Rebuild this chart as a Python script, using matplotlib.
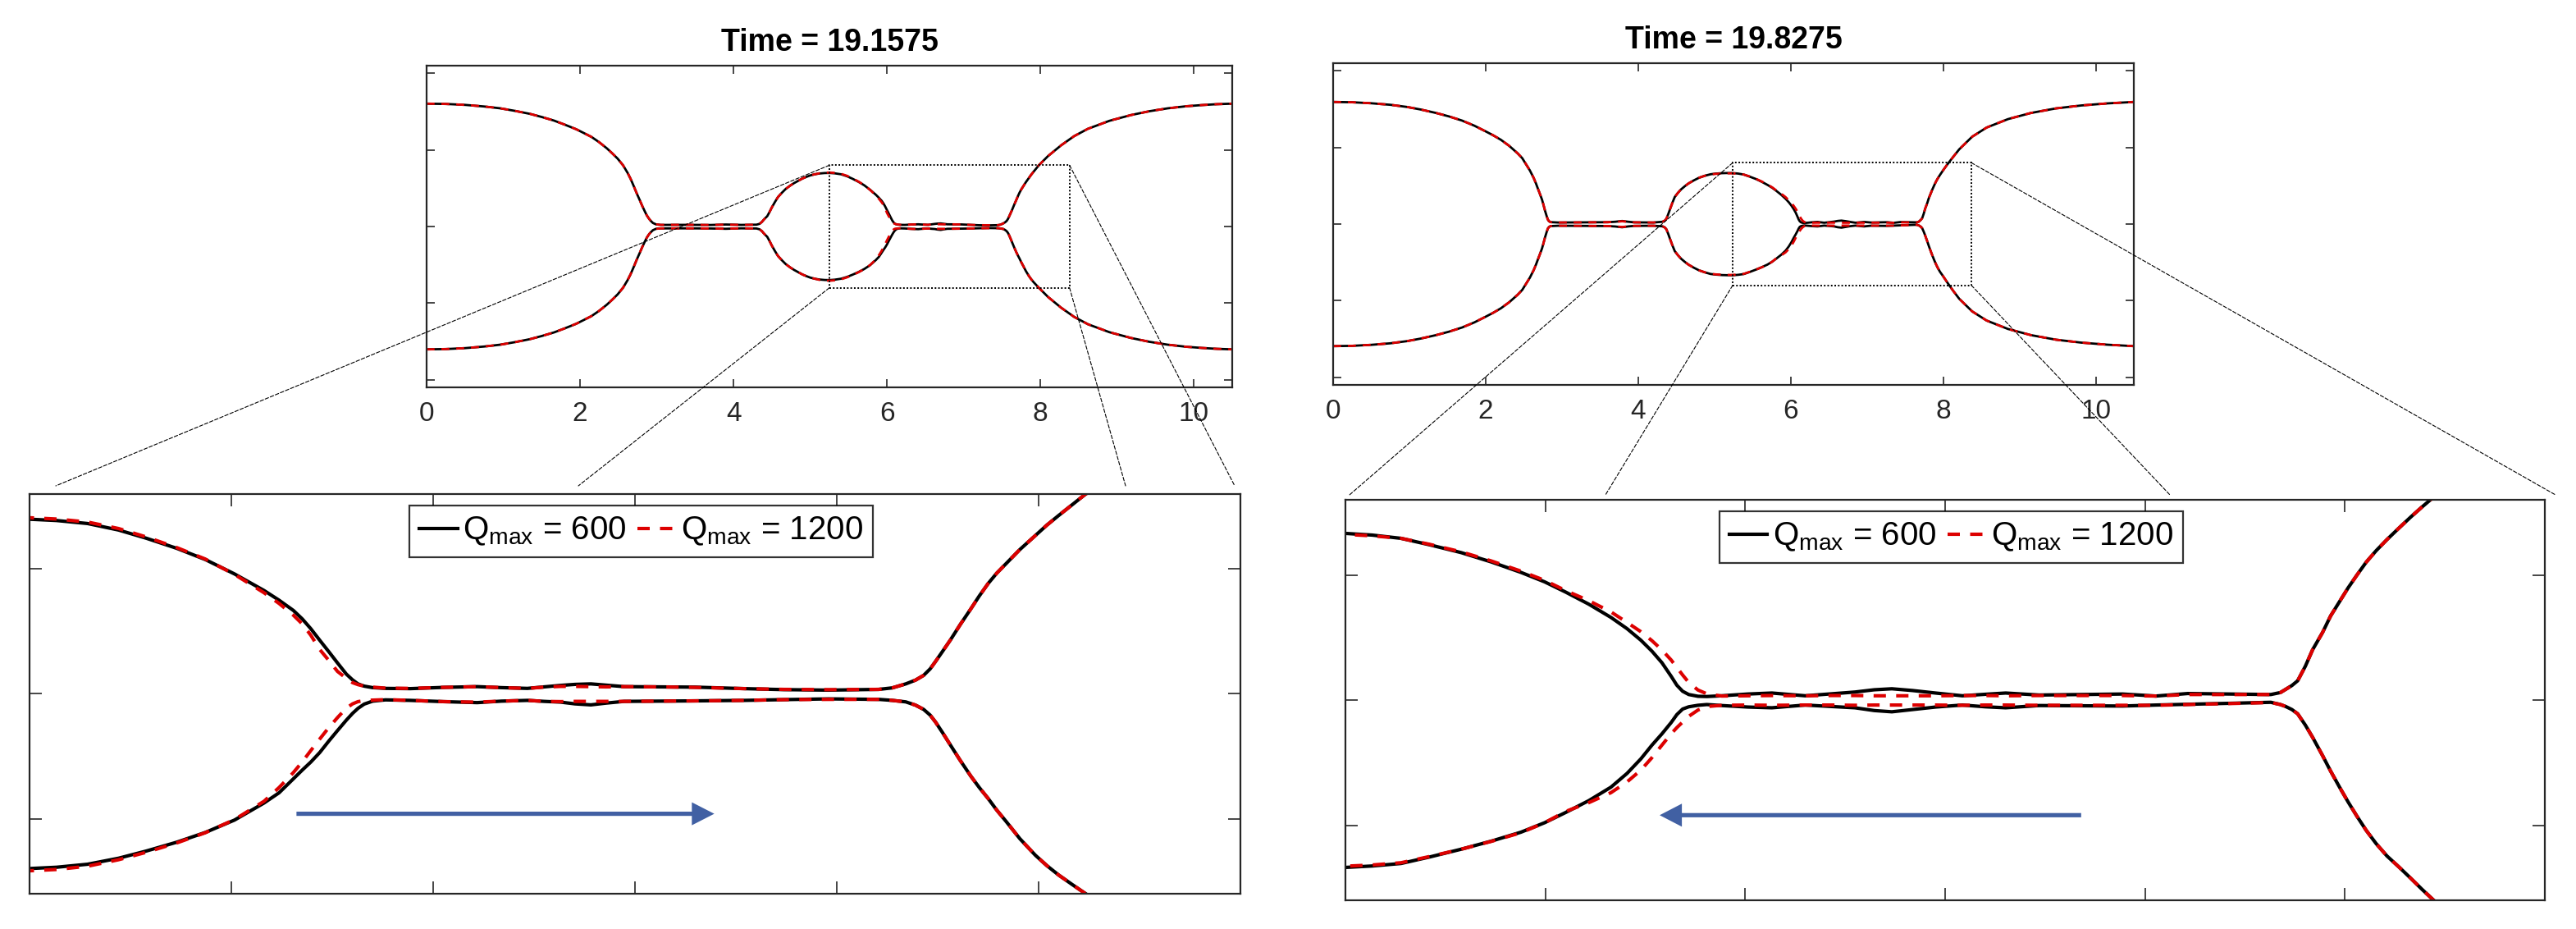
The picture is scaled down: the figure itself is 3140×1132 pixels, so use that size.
import numpy as np
import matplotlib
matplotlib.use("Agg")
import matplotlib.pyplot as plt
from matplotlib.patches import Rectangle, FancyArrow, ConnectionPatch

plt.rcParams['font.family'] = ['Liberation Sans', 'DejaVu Sans']
plt.rcParams['mathtext.fontset'] = 'custom'
plt.rcParams['mathtext.rm'] = 'Liberation Sans'
plt.rcParams['mathtext.it'] = 'Liberation Sans:italic'

# ================= panel 1 : Time = 19.1575 =================
title1 = "Time = 19.1575"
p1_x = [0.00, 0.25, 0.50, 0.75, 0.96, 1.15, 1.35, 1.50, 1.66, 1.80,
        1.95, 2.05, 2.15, 2.25, 2.35, 2.42, 2.49, 2.56, 2.62, 2.66,
        2.70, 2.74, 2.78, 2.81, 2.84, 2.87, 2.90, 2.925, 2.95, 2.99,
        3.05, 3.40, 3.70, 3.90, 4.10, 4.30, 4.34, 4.37, 4.40, 4.44,
        4.47, 4.50, 4.54, 4.58, 4.63, 4.68, 4.74, 4.79, 4.85, 4.90,
        4.95, 5.00, 5.06, 5.12, 5.19, 5.253, 5.32, 5.40, 5.48, 5.552,
        5.63, 5.704, 5.78, 5.856, 5.895, 5.932, 5.955, 5.977, 6.000, 6.023,
        6.046, 6.069, 6.085, 6.099, 6.115, 6.137, 6.17, 6.234, 6.32, 6.407,
        6.47, 6.537, 6.58, 6.623, 6.66, 6.701, 6.74, 6.787, 6.88, 6.97,
        7.099, 7.20, 7.315, 7.445, 7.48, 7.515, 7.54, 7.561, 7.578, 7.592,
        7.61, 7.63, 7.656, 7.683, 7.705, 7.728, 7.75, 7.774, 7.81, 7.85,
        7.88, 7.91, 7.945, 7.979, 8.10, 8.27, 8.44, 8.62, 8.90, 9.18,
        9.42, 9.66, 9.90, 10.1, 10.3, 10.5]
p1_up600 = [1.604, 1.600, 1.588, 1.567, 1.543, 1.510, 1.470, 1.430, 1.383, 1.330,
            1.270, 1.220, 1.169, 1.100, 1.020, 0.955, 0.886, 0.800, 0.700, 0.620,
            0.527, 0.430, 0.340, 0.270, 0.206, 0.145, 0.100, 0.070, 0.046, 0.028,
            0.021, 0.022, 0.020, 0.026, 0.021, 0.024, 0.035, 0.060, 0.095, 0.135,
            0.190, 0.250, 0.320, 0.385, 0.440, 0.490, 0.535, 0.567, 0.600, 0.627,
            0.648, 0.667, 0.682, 0.692, 0.698, 0.699, 0.694, 0.682, 0.656, 0.623,
            0.583, 0.538, 0.480, 0.414, 0.375, 0.334, 0.300, 0.261, 0.215, 0.170,
            0.124, 0.079, 0.056, 0.040, 0.031, 0.025, 0.022, 0.021, 0.026, 0.029,
            0.025, 0.022, 0.028, 0.034, 0.038, 0.040, 0.035, 0.029, 0.028, 0.027,
            0.021, 0.017, 0.015, 0.018, 0.024, 0.040, 0.055, 0.074, 0.100, 0.130,
            0.170, 0.215, 0.278, 0.340, 0.392, 0.442, 0.483, 0.521, 0.578, 0.634,
            0.676, 0.714, 0.757, 0.799, 0.920, 1.060, 1.180, 1.276, 1.380, 1.455,
            1.505, 1.543, 1.570, 1.585, 1.597, 1.604]
p1_lo600 = [-1.604, -1.600, -1.588, -1.567, -1.543, -1.510, -1.470, -1.430, -1.383, -1.330,
            -1.270, -1.220, -1.169, -1.100, -1.020, -0.955, -0.886, -0.800, -0.700, -0.620,
            -0.527, -0.430, -0.340, -0.270, -0.206, -0.145, -0.100, -0.072, -0.048, -0.030,
            -0.025, -0.024, -0.026, -0.030, -0.024, -0.026, -0.037, -0.060, -0.095, -0.135,
            -0.190, -0.250, -0.320, -0.385, -0.440, -0.490, -0.535, -0.567, -0.600, -0.627,
            -0.648, -0.667, -0.682, -0.692, -0.698, -0.699, -0.694, -0.682, -0.658, -0.629,
            -0.594, -0.555, -0.505, -0.437, -0.396, -0.340, -0.305, -0.273, -0.235, -0.190,
            -0.147, -0.105, -0.078, -0.058, -0.041, -0.029, -0.024, -0.026, -0.031, -0.035,
            -0.029, -0.026, -0.030, -0.033, -0.040, -0.044, -0.037, -0.030, -0.029, -0.028,
            -0.026, -0.023, -0.020, -0.022, -0.026, -0.032, -0.045, -0.062, -0.085, -0.113,
            -0.155, -0.204, -0.267, -0.329, -0.375, -0.419, -0.465, -0.510, -0.580, -0.646,
            -0.688, -0.725, -0.763, -0.799, -0.920, -1.060, -1.180, -1.276, -1.380, -1.455,
            -1.505, -1.543, -1.570, -1.585, -1.597, -1.604]
p1_up1200 = [1.604, 1.600, 1.588, 1.567, 1.543, 1.510, 1.470, 1.430, 1.383, 1.330,
             1.270, 1.220, 1.169, 1.100, 1.020, 0.955, 0.886, 0.800, 0.700, 0.620,
             0.527, 0.430, 0.340, 0.270, 0.206, 0.145, 0.100, 0.070, 0.046, 0.028,
             0.021, 0.022, 0.020, 0.024, 0.021, 0.023, 0.035, 0.060, 0.095, 0.135,
             0.190, 0.250, 0.320, 0.385, 0.440, 0.490, 0.535, 0.567, 0.600, 0.627,
             0.648, 0.667, 0.682, 0.695, 0.703, 0.705, 0.700, 0.688, 0.662, 0.628,
             0.586, 0.540, 0.478, 0.405, 0.362, 0.315, 0.280, 0.235, 0.178, 0.135,
             0.090, 0.062, 0.045, 0.037, 0.031, 0.027, 0.023, 0.022, 0.026, 0.029,
             0.025, 0.022, 0.027, 0.030, 0.030, 0.029, 0.028, 0.029, 0.028, 0.026,
             0.021, 0.018, 0.017, 0.018, 0.024, 0.040, 0.055, 0.074, 0.100, 0.130,
             0.170, 0.215, 0.278, 0.340, 0.392, 0.442, 0.483, 0.521, 0.578, 0.634,
             0.676, 0.714, 0.757, 0.799, 0.920, 1.060, 1.180, 1.276, 1.380, 1.455,
             1.505, 1.543, 1.570, 1.585, 1.597, 1.604]
p1_lo1200 = [-1.604, -1.600, -1.588, -1.567, -1.543, -1.510, -1.470, -1.430, -1.383, -1.330,
             -1.270, -1.220, -1.169, -1.100, -1.020, -0.955, -0.886, -0.800, -0.700, -0.620,
             -0.527, -0.430, -0.340, -0.270, -0.206, -0.145, -0.100, -0.072, -0.048, -0.030,
             -0.025, -0.024, -0.026, -0.028, -0.024, -0.026, -0.037, -0.060, -0.095, -0.135,
             -0.190, -0.250, -0.320, -0.385, -0.440, -0.490, -0.535, -0.567, -0.600, -0.627,
             -0.648, -0.667, -0.682, -0.697, -0.705, -0.708, -0.703, -0.690, -0.664, -0.634,
             -0.597, -0.556, -0.503, -0.430, -0.375, -0.315, -0.272, -0.227, -0.181, -0.136,
             -0.095, -0.057, -0.040, -0.031, -0.027, -0.025, -0.023, -0.026, -0.031, -0.033,
             -0.029, -0.026, -0.030, -0.031, -0.030, -0.030, -0.030, -0.030, -0.029, -0.028,
             -0.026, -0.023, -0.022, -0.022, -0.026, -0.032, -0.045, -0.062, -0.085, -0.113,
             -0.155, -0.204, -0.267, -0.329, -0.375, -0.419, -0.465, -0.510, -0.580, -0.646,
             -0.688, -0.725, -0.763, -0.799, -0.920, -1.060, -1.180, -1.276, -1.380, -1.455,
             -1.505, -1.543, -1.570, -1.585, -1.597, -1.604]

# ================= panel 2 : Time = 19.8275 =================
title2 = "Time = 19.8275"
p2_x = [0.00, 0.25, 0.50, 0.75, 0.967, 1.15, 1.35, 1.52, 1.69, 1.85,
        2.00, 2.10, 2.20, 2.31, 2.42, 2.48, 2.53, 2.58, 2.63, 2.66,
        2.69, 2.715, 2.74, 2.76, 2.78, 2.80, 2.815, 2.83, 2.85, 2.95,
        3.30, 3.60, 3.70, 3.79, 3.87, 3.95, 4.20, 4.32, 4.35, 4.37,
        4.395, 4.42, 4.45, 4.48, 4.52, 4.56, 4.61, 4.66, 4.73, 4.80,
        4.88, 4.95, 5.02, 5.10, 5.17, 5.237, 5.31, 5.385, 5.46, 5.542,
        5.62, 5.698, 5.76, 5.815, 5.875, 5.933, 5.975, 6.011, 6.04, 6.066,
        6.09, 6.105, 6.12, 6.136, 6.16, 6.183, 6.222, 6.29, 6.353, 6.44,
        6.51, 6.57, 6.62, 6.666, 6.72, 6.78, 6.85, 6.91, 6.963, 7.05,
        7.16, 7.268, 7.355, 7.438, 7.55, 7.655, 7.68, 7.694, 7.71, 7.725,
        7.745, 7.764, 7.79, 7.811, 7.835, 7.857, 7.88, 7.904, 7.93, 7.958,
        7.99, 8.02, 8.05, 8.08, 8.13, 8.21, 8.38, 8.57, 8.85, 9.15,
        9.48, 9.81, 10.15, 10.5]
p2_up600 = [1.594, 1.590, 1.577, 1.557, 1.529, 1.495, 1.450, 1.405, 1.351, 1.285,
            1.210, 1.158, 1.100, 1.020, 0.923, 0.860, 0.780, 0.700, 0.602, 0.530,
            0.450, 0.385, 0.317, 0.245, 0.170, 0.105, 0.060, 0.038, 0.025, 0.020,
            0.022, 0.024, 0.030, 0.040, 0.030, 0.022, 0.020, 0.030, 0.045, 0.068,
            0.130, 0.200, 0.280, 0.353, 0.405, 0.450, 0.492, 0.530, 0.570, 0.605,
            0.632, 0.650, 0.659, 0.664, 0.666, 0.666, 0.659, 0.646, 0.620, 0.589,
            0.552, 0.510, 0.472, 0.431, 0.383, 0.330, 0.285, 0.239, 0.195, 0.149,
            0.095, 0.059, 0.035, 0.022, 0.015, 0.014, 0.017, 0.024, 0.028, 0.017,
            0.025, 0.032, 0.041, 0.045, 0.038, 0.028, 0.017, 0.023, 0.028, 0.020,
            0.022, 0.024, 0.016, 0.026, 0.024, 0.022, 0.030, 0.043, 0.058, 0.077,
            0.135, 0.201, 0.270, 0.336, 0.395, 0.449, 0.500, 0.551, 0.597, 0.641,
            0.688, 0.731, 0.772, 0.811, 0.875, 0.975, 1.140, 1.260, 1.370, 1.450,
            1.510, 1.548, 1.575, 1.594]
p2_lo600 = [-1.594, -1.590, -1.577, -1.557, -1.529, -1.495, -1.450, -1.405, -1.351, -1.285,
            -1.210, -1.158, -1.100, -1.020, -0.923, -0.860, -0.780, -0.700, -0.602, -0.530,
            -0.450, -0.385, -0.317, -0.245, -0.170, -0.105, -0.060, -0.040, -0.027, -0.022,
            -0.024, -0.026, -0.032, -0.042, -0.031, -0.024, -0.022, -0.030, -0.045, -0.068,
            -0.130, -0.200, -0.280, -0.353, -0.405, -0.450, -0.492, -0.530, -0.570, -0.605,
            -0.632, -0.652, -0.660, -0.666, -0.668, -0.669, -0.663, -0.653, -0.627, -0.596,
            -0.564, -0.528, -0.490, -0.449, -0.402, -0.348, -0.293, -0.235, -0.180, -0.135,
            -0.090, -0.058, -0.036, -0.027, -0.021, -0.018, -0.022, -0.028, -0.031, -0.020,
            -0.026, -0.031, -0.042, -0.047, -0.038, -0.028, -0.020, -0.027, -0.031, -0.022,
            -0.023, -0.024, -0.020, -0.017, -0.013, -0.009, -0.018, -0.026, -0.038, -0.055,
            -0.100, -0.149, -0.222, -0.284, -0.350, -0.408, -0.465, -0.521, -0.574, -0.623,
            -0.668, -0.712, -0.757, -0.800, -0.870, -0.975, -1.140, -1.260, -1.370, -1.450,
            -1.510, -1.548, -1.575, -1.594]
p2_up1200 = [1.594, 1.590, 1.577, 1.557, 1.529, 1.495, 1.450, 1.405, 1.351, 1.285,
             1.210, 1.158, 1.100, 1.020, 0.923, 0.860, 0.780, 0.700, 0.602, 0.530,
             0.450, 0.385, 0.317, 0.245, 0.170, 0.105, 0.060, 0.038, 0.025, 0.020,
             0.022, 0.024, 0.028, 0.036, 0.028, 0.022, 0.020, 0.030, 0.045, 0.068,
             0.130, 0.200, 0.280, 0.353, 0.405, 0.450, 0.492, 0.530, 0.570, 0.605,
             0.632, 0.648, 0.655, 0.660, 0.662, 0.662, 0.656, 0.646, 0.622, 0.592,
             0.556, 0.515, 0.478, 0.437, 0.397, 0.352, 0.310, 0.273, 0.237, 0.200,
             0.160, 0.130, 0.100, 0.070, 0.040, 0.025, 0.016, 0.017, 0.018, 0.017,
             0.018, 0.018, 0.017, 0.017, 0.017, 0.017, 0.018, 0.018, 0.017, 0.018,
             0.018, 0.018, 0.016, 0.022, 0.022, 0.022, 0.030, 0.043, 0.058, 0.077,
             0.135, 0.201, 0.270, 0.336, 0.395, 0.449, 0.500, 0.551, 0.597, 0.641,
             0.688, 0.731, 0.772, 0.811, 0.875, 0.975, 1.140, 1.260, 1.370, 1.450,
             1.510, 1.548, 1.575, 1.594]
p2_lo1200 = [-1.594, -1.590, -1.577, -1.557, -1.529, -1.495, -1.450, -1.405, -1.351, -1.285,
             -1.210, -1.158, -1.100, -1.020, -0.923, -0.860, -0.780, -0.700, -0.602, -0.530,
             -0.450, -0.385, -0.317, -0.245, -0.170, -0.105, -0.060, -0.040, -0.027, -0.022,
             -0.024, -0.026, -0.030, -0.038, -0.030, -0.024, -0.022, -0.030, -0.045, -0.068,
             -0.130, -0.200, -0.280, -0.353, -0.405, -0.450, -0.492, -0.530, -0.570, -0.605,
             -0.632, -0.650, -0.657, -0.662, -0.664, -0.664, -0.659, -0.650, -0.625, -0.596,
             -0.565, -0.530, -0.490, -0.445, -0.410, -0.370, -0.327, -0.280, -0.230, -0.180,
             -0.135, -0.110, -0.088, -0.065, -0.040, -0.026, -0.021, -0.020, -0.021, -0.020,
             -0.020, -0.021, -0.020, -0.020, -0.020, -0.020, -0.021, -0.020, -0.020, -0.021,
             -0.021, -0.021, -0.021, -0.018, -0.014, -0.010, -0.018, -0.026, -0.038, -0.055,
             -0.100, -0.149, -0.222, -0.284, -0.350, -0.408, -0.465, -0.521, -0.574, -0.623,
             -0.668, -0.712, -0.757, -0.800, -0.870, -0.975, -1.140, -1.260, -1.370, -1.450,
             -1.510, -1.548, -1.575, -1.594]

legend_labels = [r"Q$_{\mathrm{max}}$ = 600", r"Q$_{\mathrm{max}}$ = 1200"]
main_xticks = [0, 2, 4, 6, 8, 10]
main_yticks = [-2, -1, 0, 1, 2]
zoom1 = (5.25, 8.38, -0.8, 0.8)
zoom2 = (5.24, 8.37, -0.8, 0.8)
# flow-direction arrows (inset data coords): tail x, tip x, y
arrow1 = (5.94, 7.02, -0.48)
arrow2 = (7.16, 6.06, -0.46)

for arrs in ((p1_x, p1_up600, p1_lo600, p1_up1200, p1_lo1200),
             (p2_x, p2_up600, p2_lo600, p2_up1200, p2_lo1200)):
    assert len(set(len(a) for a in arrs)) == 1, [len(a) for a in arrs]

# ================= figure =================
W, H = 3140, 1132
fig = plt.figure(figsize=(W / 100, H / 100), dpi=100)


def ax_px(l, t, r, b):
    return fig.add_axes([l / W, 1 - b / H, (r - l) / W, (b - t) / H])


SP = '#262626'
BLK = 'black'
RED = '#dd0000'
BLUE = '#4160a3'


def style(ax, tick_len):
    for s in ax.spines.values():
        s.set_color(SP)
        s.set_linewidth(1.6)
    ax.tick_params(direction='in', top=True, right=True, length=tick_len, width=1.2,
                   color=SP, labelcolor='#262626')


panels = [
    dict(title=title1, box=(520, 80, 1502, 472), ibox=(36, 602, 1512, 1089), zoom=zoom1, arrow=arrow1,
         data=(p1_x, p1_up600, p1_lo600, p1_up1200, p1_lo1200),
         ends=[(68, 592), (705, 592), (1505, 592), (1372, 592)]),
    dict(title=title2, box=(1625, 77, 2601, 469), ibox=(1640, 609, 3102, 1097), zoom=zoom2, arrow=arrow2,
         data=(p2_x, p2_up600, p2_lo600, p2_up1200, p2_lo1200),
         ends=[(1645, 603), (1957, 603), (3115, 603), (2645, 603)]),
]

for P in panels:
    ax = ax_px(*P['box'])
    ia = ax_px(*P['ibox'])
    xs, up6, lo6, up12, lo12 = P['data']
    for a, lw, dsh in ((ax, 2.0, (3.5, 3.0)), (ia, 3.0, (3.6, 3.0))):
        h1, = a.plot(xs, up6, color=BLK, lw=lw, solid_joinstyle='round')
        a.plot(xs, lo6, color=BLK, lw=lw, solid_joinstyle='round')
        h2, = a.plot(xs, up12, color=RED, lw=lw, ls=(0, dsh))
        a.plot(xs, lo12, color=RED, lw=lw, ls=(0, dsh))

    # main axes
    ax.set_xlim(0, 10.5)
    ax.set_ylim(-2.1, 2.1)
    ax.set_xticks(main_xticks)
    ax.set_yticks(main_yticks)
    ax.set_yticklabels([])
    style(ax, 7)
    ax.tick_params(axis='x', labelsize=24, pad=12)
    ax.set_title(P['title'], fontsize=27, fontweight='bold', pad=13)

    x0, x1, y0, y1 = P['zoom']
    ax.add_patch(Rectangle((x0, y0), x1 - x0, y1 - y0, fill=False, ec='black', lw=1.4,
                           ls=(0, (1, 1.2)), zorder=5))

    # inset axes
    ia.set_xlim(x0, x1)
    ia.set_ylim(y0, y1)
    ia.set_xticks(np.linspace(x0, x1, 7)[1:-1])
    ia.set_yticks([-0.5, 0, 0.5])
    ia.set_xticklabels([])
    ia.set_yticklabels([])
    style(ia, 11)

    leg = ia.legend([h1, h2], legend_labels, loc='upper center', bbox_to_anchor=(0.505, 0.972),
                    ncol=2, fontsize=29, frameon=True, fancybox=False, handlelength=1.15,
                    handletextpad=0.15, columnspacing=0.35, borderpad=0.3, borderaxespad=0.0)
    leg.get_frame().set_edgecolor('black')
    leg.get_frame().set_linewidth(1.6)

    tx, hx, ay = P['arrow']
    ia.add_patch(FancyArrow(tx, ay, hx - tx, 0, width=0.017, head_width=0.092, head_length=0.058,
                            length_includes_head=True, color=BLUE, lw=0, zorder=6))

    # connector lines from the zoom rectangle corners
    corners = [(x0, y1), (x0, y0), (x1, y1), (x1, y0)]
    for (cx, cy), (ex, ey) in zip(corners, P['ends']):
        con = ConnectionPatch(xyA=(cx, cy), coordsA=ax.transData, xyB=(ex, H - ey),
                              coordsB='figure pixels', color='black', lw=0.8, ls=(0, (4, 2)))
        fig.add_artist(con)

fig.savefig('out.png', dpi=100, facecolor='white')
